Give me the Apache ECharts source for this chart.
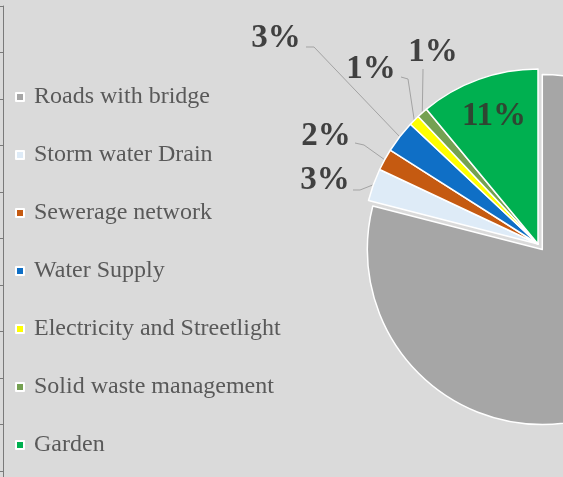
<!DOCTYPE html>
<html>
<head>
<meta charset="utf-8">
<script src="https://cdn.jsdelivr.net/npm/echarts@6/dist/echarts.min.js"></script>
<style>
  html, body { margin: 0; padding: 0; background: #dadada; }
  #chart { width: 563px; height: 477px; }
</style>
</head>
<body>
<div id="chart"></div>
<script>
// Share of project cost by component (%)
const categories = [
  'Roads with bridge',
  'Storm water Drain',
  'Sewerage network',
  'Water Supply',
  'Electricity and Streetlight',
  'Solid waste management',
  'Garden'
];
const shares = [79, 3, 2, 3, 1, 1, 11];
const sliceColors = ['#a6a6a6', '#deebf7', '#c55a11', '#0f6fc6', '#ffff00', '#75a152', '#00b050'];

// Where each percentage label sits, and the elbow/end of its leader line
const labelSpots = {
  1: { x: 325, y: 180, elbow: [360, 190], end: [353, 190] },
  2: { x: 326, y: 136, elbow: [364, 145], end: [355, 143] },
  3: { x: 276, y: 38,  elbow: [314, 47],  end: [306, 47] },
  4: { x: 371, y: 69,  elbow: [408, 79],  end: [401, 77] },
  5: { x: 433, y: 52,  elbow: [423, 70],  end: [423, 69] },
  6: { x: 494, y: 116 }
};

const chart = echarts.init(document.getElementById('chart'), null, { renderer: 'canvas' });

const pieData = categories.map((name, i) => {
  const item = { name: name, value: shares[i], itemStyle: { color: sliceColors[i] } };
  if (i === 0) {
    item.selected = true;
    item.label = { show: false };
    item.labelLine = { show: false };
  }
  if (i === 6) {
    item.labelLine = { show: false };
    item.label = { color: '#2f4632' };
  }
  return item;
});

chart.setOption({
  backgroundColor: '#dadada',
  animation: false,
  // thin frame line with outward ticks along the left edge
  grid: { left: 3, top: 6, bottom: 0, width: 1 },
  xAxis: { type: 'value', show: false },
  yAxis: {
    type: 'value', inverse: true, min: 0, max: 10.13, interval: 1,
    axisLine: { show: true, lineStyle: { color: '#7a7a7a', width: 1 } },
    axisTick: { show: true, inside: false, length: 3, lineStyle: { color: '#7a7a7a' } },
    axisLabel: { show: false },
    splitLine: { show: false }
  },
  legend: {
    orient: 'vertical',
    left: 15,
    top: 85,
    padding: 0,
    itemWidth: 8,
    itemHeight: 8,
    itemGap: 34,
    icon: 'rect',
    data: categories,
    selectedMode: false,
    textStyle: {
      fontFamily: 'Liberation Serif',
      fontSize: 24,
      lineHeight: 24,
      color: '#595959',
      padding: [0, 0, 0, 5]
    }
  },
  series: [{
    type: 'pie',
    center: [538, 244],
    radius: 175,
    startAngle: 90,
    clockwise: true,
    selectedMode: 'single',
    selectedOffset: 7,
    avoidLabelOverlap: false,
    emphasis: { disabled: true },
    itemStyle: { borderColor: '#ffffff', borderWidth: 1.5 },
    label: {
      show: true,
      position: 'outside',
      formatter: p => p.value + '%',
      fontFamily: 'Liberation Serif',
      fontWeight: 'bold',
      fontSize: 33,
      color: '#404040'
    },
    labelLine: {
      show: true,
      length: 10,
      length2: 10,
      smooth: false,
      lineStyle: { color: '#a3a3a3', width: 1 }
    },
    labelLayout: params => {
      const spot = labelSpots[params.dataIndex];
      if (!spot) return {};
      const out = { x: spot.x, y: spot.y, align: 'center', verticalAlign: 'middle' };
      if (spot.elbow && params.labelLinePoints) {
        out.labelLinePoints = [params.labelLinePoints[0], spot.elbow, spot.end];
      }
      return out;
    },
    data: pieData
  }]
});
</script>
</body>
</html>
